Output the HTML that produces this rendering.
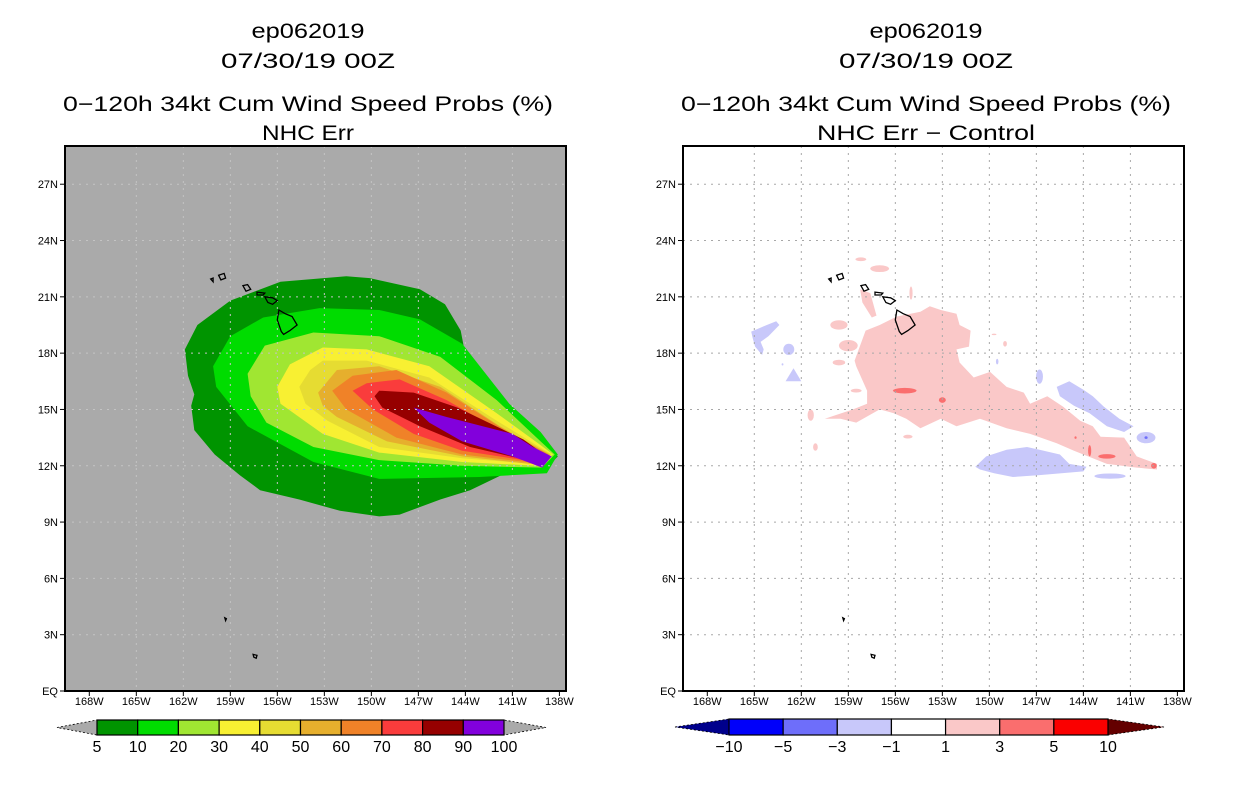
<!DOCTYPE html>
<html><head><meta charset="utf-8"><style>
html,body{margin:0;padding:0;background:#fff;}
svg{display:block;font-family:"Liberation Sans",sans-serif;}
</style></head><body>
<svg id="fig" width="1236" height="800" viewBox="0 0 1236 800" xmlns="http://www.w3.org/2000/svg">
<text x="308" y="38" text-anchor="middle" font-size="21" textLength="113" lengthAdjust="spacingAndGlyphs">ep062019</text>
<text x="308" y="68" text-anchor="middle" font-size="21" textLength="174" lengthAdjust="spacingAndGlyphs">07/30/19 00Z</text>
<text x="308" y="111" text-anchor="middle" font-size="21" textLength="490" lengthAdjust="spacingAndGlyphs">0−120h 34kt Cum Wind Speed Probs (%)</text>
<text x="308" y="140" text-anchor="middle" font-size="21" textLength="92" lengthAdjust="spacingAndGlyphs">NHC Err</text>
<text x="926" y="38" text-anchor="middle" font-size="21" textLength="113" lengthAdjust="spacingAndGlyphs">ep062019</text>
<text x="926" y="68" text-anchor="middle" font-size="21" textLength="174" lengthAdjust="spacingAndGlyphs">07/30/19 00Z</text>
<text x="926" y="111" text-anchor="middle" font-size="21" textLength="490" lengthAdjust="spacingAndGlyphs">0−120h 34kt Cum Wind Speed Probs (%)</text>
<text x="926" y="140" text-anchor="middle" font-size="21" textLength="218" lengthAdjust="spacingAndGlyphs">NHC Err − Control</text>
<g id="leftMap"></g>
<g id="rightMap"></g>
<g id="leftBar"></g>
<g id="rightBar"></g>
</svg>
<script>
// ---- data ----
const lonTicks = [-168,-165,-162,-159,-156,-153,-150,-147,-144,-141,-138];
const lonTickLabels = ["168W","165W","162W","159W","156W","153W","150W","147W","144W","141W","138W"];
const latTicks = [0,3,6,9,12,15,18,21,24,27];
const latTickLabels = ["EQ","3N","6N","9N","12N","15N","18N","21N","24N","27N"];
const probLevels = [5,10,20,30,40,50,60,70,80,90,100];
const probColors = ["#009400","#00dc00","#a0e632","#f8f032","#e6dc32","#e6af2d","#f08228","#fa3c3c","#960000","#8200dc"];
const c5 = [[-151.6,22.1],[-150.1,22.0],[-146.9,21.4],[-145.3,20.6],[-144.3,19.2],[-144.0,17.9],[-143.2,16.3],[-142.4,15.5],[-141.5,14.7],[-140.5,14.2],[-139.2,13.4],[-138.1,12.5],[-138.9,11.8],[-141.2,11.7],[-143.7,10.7],[-145.6,10.2],[-148.2,9.4],[-149.5,9.3],[-152.0,9.6],[-154.6,10.2],[-157.1,10.7],[-158.4,11.5],[-160.0,12.6],[-161.3,13.9],[-161.5,15.2],[-161.3,15.8],[-161.7,16.8],[-161.9,18.2],[-161.1,19.5],[-159.0,20.8],[-155.8,21.8]];
const c10 = [[-159.0,18.9],[-156.9,19.9],[-153.3,20.4],[-149.5,20.3],[-146.9,19.8],[-144.2,18.5],[-141.2,15.3],[-139.2,13.8],[-138.1,12.6],[-138.8,11.6],[-143.1,11.4],[-149.5,11.3],[-153.7,12.2],[-157.9,14.1],[-159.9,16.2],[-160.1,17.3]];
const c20 = [[-157.9,16.9],[-156.8,18.4],[-153.7,19.1],[-149.5,18.9],[-145.6,17.8],[-142.0,15.5],[-139.2,13.3],[-138.3,12.6],[-139.1,11.9],[-144.2,12.0],[-149.5,12.3],[-153.7,13.0],[-156.7,14.3],[-157.7,15.7]];
const c30 = [[-156.0,16.2],[-155.2,17.4],[-153.1,18.3],[-150.3,18.2],[-146.3,17.3],[-142.0,14.8],[-139.2,13.1],[-138.4,12.6],[-139.4,12.0],[-144.2,12.2],[-149.5,12.7],[-153.1,13.7],[-155.8,15.3]];
const c40 = [[-154.6,16.2],[-153.9,17.1],[-153.1,17.6],[-150.3,17.6],[-146.3,16.7],[-142.0,14.4],[-138.5,12.6],[-139.7,12.1],[-144.2,12.4],[-149.5,13.0],[-152.8,14.4],[-154.2,15.3]];
const c50 = [[-153.4,15.9],[-152.2,17.1],[-149.5,17.3],[-145.6,16.2],[-141.8,14.1],[-138.6,12.6],[-139.9,12.1],[-144.2,12.5],[-149.0,13.3],[-152.2,14.6],[-153.1,15.2]];
const c60 = [[-152.5,16.0],[-151.2,16.8],[-148.4,17.1],[-145.2,15.9],[-141.3,13.8],[-138.7,12.6],[-140.1,12.2],[-144.2,12.6],[-148.4,13.5],[-151.6,15.0]];
const c70 = [[-151.2,16.0],[-150.3,16.4],[-148.2,16.6],[-145.2,15.5],[-141.0,13.5],[-138.8,12.5],[-140.3,12.3],[-144.2,12.8],[-147.3,13.7],[-149.9,15.0]];
const c80 = [[-149.8,15.7],[-149.5,16.0],[-147.3,15.9],[-144.5,15.1],[-140.3,13.4],[-138.8,12.5],[-140.1,12.3],[-143.7,13.0],[-146.9,14.1],[-149.3,15.1]];
const c90 = [[-147.3,15.1],[-145.2,14.6],[-141.0,13.7],[-139.7,13.0],[-138.5,12.5],[-139.1,11.9],[-141.0,12.5],[-144.2,13.3],[-146.3,14.3]];
const probContours = [c5,c10,c20,c30,c40,c50,c60,c70,c80,c90];

const diffLevels = [-10,-5,-3,-1,1,3,5,10];
const diffColors = ["#00008c","#0000fa","#6e6efa","#c8c8fa","#ffffff","#fac8c8","#fa6e6e","#fa0000","#640000"];
const pinkMain = [[-158.6,17.6],[-157.9,19.2],[-157.0,19.5],[-155.9,19.95],[-154.4,20.2],[-153.8,20.5],[-153.1,20.3],[-152.1,20.1],[-151.9,19.5],[-151.2,19.2],[-151.3,18.35],[-152.1,18.2],[-151.9,17.5],[-151.0,16.7],[-149.95,17.0],[-148.9,16.2],[-147.8,15.9],[-147.4,15.3],[-146.3,15.7],[-145.3,15.15],[-144.2,14.4],[-143.4,14.1],[-142.9,13.55],[-141.4,13.5],[-140.6,12.5],[-139.3,12.1],[-139.3,11.8],[-140.6,11.9],[-142.5,12.1],[-144.6,12.8],[-145.7,13.2],[-147.4,13.7],[-148.9,14.0],[-150.6,14.5],[-152.1,14.1],[-153.1,14.5],[-154.4,14.0],[-155.3,14.5],[-156.1,14.8],[-157.0,15.0],[-158.5,14.3],[-159.5,14.5],[-160.5,14.5],[-158.7,15.0],[-157.8,15.3],[-157.8,16.0],[-158.5,17.3]];
const pinkStrip = [[-158.25,21.4],[-157.6,21.2],[-157.2,20.0],[-157.5,19.9],[-158.1,20.7]];
const blueWest = [[-165.2,19.15],[-164.2,19.5],[-163.6,19.7],[-163.4,19.5],[-164.1,18.9],[-164.6,18.6],[-164.4,18.2],[-164.5,17.9],[-164.95,18.35],[-165.1,18.8]];
const blueTri = [[-163.0,16.5],[-162.5,17.2],[-162.0,16.5]];
const blueBandNE = [[-145.7,16.2],[-144.9,16.5],[-144.0,16.05],[-143.4,15.7],[-142.7,15.15],[-141.7,14.5],[-140.8,14.1],[-141.4,13.8],[-142.5,14.1],[-143.6,14.8],[-144.6,15.2],[-145.5,15.7]];
const blueBandS = [[-150.9,11.95],[-150.2,12.5],[-148.9,12.85],[-147.6,13.0],[-146.8,12.85],[-145.5,12.6],[-144.9,12.1],[-143.8,11.95],[-144.0,11.7],[-146.8,11.5],[-148.5,11.4],[-149.7,11.6],[-150.6,11.8]];
const diffPolys = [[pinkMain,5],[pinkStrip,5],[blueWest,3],[blueTri,3],[blueBandNE,3],[blueBandS,3]];
// small patches: lon, lat, rx(deg), ry(deg), colour class index
const diffPatches = [[-159.6,19.5,0.55,0.25,5],[-159.0,18.4,0.6,0.3,5],[-159.6,17.5,0.4,0.15,5],[-157.0,22.5,0.6,0.18,5],[-158.2,23.0,0.35,0.1,5],[-155.0,21.2,0.1,0.35,5],[-161.4,14.7,0.2,0.3,5],[-161.1,13.0,0.15,0.2,5],[-155.2,13.55,0.3,0.1,5],[-158.5,16.0,0.35,0.1,5],[-149.0,18.5,0.12,0.15,5],[-149.7,19.0,0.15,0.04,5],
 [-162.8,18.2,0.35,0.3,3],[-149.5,17.55,0.08,0.15,3],[-146.8,16.75,0.22,0.38,3],[-140.0,13.5,0.6,0.3,3],[-142.3,11.45,1.0,0.14,3],[-163.2,17.4,0.06,0.06,3],
 [-155.4,16.0,0.75,0.15,6],[-153.0,15.5,0.22,0.15,6],[-142.5,12.5,0.55,0.12,6],[-143.6,12.8,0.1,0.3,6],[-139.5,12.0,0.18,0.15,6],[-144.5,13.5,0.07,0.07,6],[-140.0,13.5,0.1,0.07,2]];
const islands = [
 [[-155.9,20.3],[-155.5,20.1],[-155.06,19.95],[-154.74,19.5],[-155.2,19.2],[-155.6,19.0],[-155.75,19.15],[-156.0,19.77]],
 [[-156.8,21.0],[-156.3,20.95],[-156.0,20.8],[-156.3,20.6],[-156.6,20.7]],
 [[-157.3,21.25],[-156.8,21.2],[-156.9,21.1],[-157.3,21.1]],
 [[-158.2,21.6],[-157.9,21.65],[-157.7,21.4],[-158.0,21.3]],
 [[-159.75,22.15],[-159.4,22.25],[-159.3,22.0],[-159.6,21.9]],
 [[-160.25,21.95],[-160.1,22.0],[-160.1,21.8]],
 [[-159.35,3.9],[-159.25,3.85],[-159.3,3.75]],
 [[-157.55,1.95],[-157.3,1.9],[-157.35,1.75],[-157.5,1.8]]
];

// ---- axes ----
const NS='http://www.w3.org/2000/svg';
const PX0=89.3, PXD=15.67, PY0=691, PYD=18.77;
function xs(lon,off){return off+PX0+(lon+168)*PXD;}
function ys(lat){return PY0-lat*PYD;}
function mk(tag,parent,attrs){const e=document.createElementNS(NS,tag);for(const k in attrs)e.setAttribute(k,attrs[k]);parent.appendChild(e);return e;}
function pts(poly,off){return poly.map(p=>xs(p[0],off).toFixed(1)+','+ys(p[1]).toFixed(1)).join(' ');}

function drawMap(g,off,bg){
  const L=65+off,T=146,W=501,H=545;
  const cp=mk('clipPath',g,{id:'clip'+off});
  mk('rect',cp,{x:L,y:T,width:W,height:H});
  const bgr=mk('rect',g,{x:L,y:T,width:W,height:H,fill:bg});
  
  
  const inner=mk('g',g,{'clip-path':'url(#clip'+off+')'});
  return {inner,L,T,W,H};
}
function drawGridAxes(g,m,off,gridCol){
  const gg=mk('g',g,{'clip-path':'url(#clip'+off+')'});
  lonTicks.forEach((lon,i)=>{
    if(i>0&&i<lonTicks.length-1){
      const l=mk('line',gg,{x1:xs(lon,off),x2:xs(lon,off),y1:m.T,y2:m.T+m.H,stroke:gridCol,'stroke-width':1,'stroke-dasharray':'2,5'});
      
      
    }
  });
  latTicks.forEach((lat,i)=>{
    if(i>0){
      const l=mk('line',gg,{x1:m.L,x2:m.L+m.W,y1:ys(lat),y2:ys(lat),stroke:gridCol,'stroke-width':1,'stroke-dasharray':'2,5'});
      
      
    }
  });
  islands.forEach(p=>{
    const s=mk('polygon',gg,{points:pts(p,off),fill:'none',stroke:'#000','stroke-width':1.3});
    
    
  });
  const fr=mk('rect',g,{x:m.L,y:m.T,width:m.W,height:m.H,fill:'none',stroke:'#000','stroke-width':2});
  
  
  lonTicks.forEach((lon,i)=>{
    const x=xs(lon,off);
    mk('line',g,{x1:x,x2:x,y1:m.T+m.H,y2:m.T+m.H+5,stroke:'#000','stroke-width':1});
    const t=mk('text',g,{x:x,y:705,'text-anchor':'middle','font-size':11});
    t.textContent=lonTickLabels[i];
    
    
  });
  latTicks.forEach((lat,i)=>{
    const y=ys(lat);
    mk('line',g,{x1:m.L-5,x2:m.L,y1:y,y2:y,stroke:'#000','stroke-width':1});
    const t=mk('text',g,{x:m.L-7,y:y+4,'text-anchor':'end','font-size':11});
    t.textContent=latTickLabels[i];
    
    
  });
}

// left map
const gl=document.getElementById('leftMap');
const ml=drawMap(gl,0,'#aaaaaa');
probContours.forEach((poly,i)=>{
  const p=mk('polygon',ml.inner,{points:pts(poly,0),fill:probColors[i]});
  
  
});
drawGridAxes(gl,ml,0,'#c4c4c4');

// right map
const gr=document.getElementById('rightMap');
const mr=drawMap(gr,618,'#ffffff');
diffPolys.forEach(d=>{
  const p=mk('polygon',mr.inner,{points:pts(d[0],618),fill:diffColors[d[1]]});
  
  
});
diffPatches.forEach(d=>{
  const e=mk('ellipse',mr.inner,{cx:xs(d[0],618),cy:ys(d[1]),rx:d[2]*PXD,ry:d[3]*PYD,fill:diffColors[d[4]]});
  
  
});
drawGridAxes(gr,mr,618,'#a8a8a8');

// colorbars
function colorbar(g,labels,x0,x1,tipL,tipR,y0,y1,arrowL,arrowR,boxes){
  const n=boxes.length, bw=(x1-x0)/n, ym=(y0+y1)/2;
  const a=mk('polygon',g,{points:`${tipL},${ym} ${x0},${y0} ${x0},${y1}`,fill:arrowL,stroke:'#000','stroke-width':0.8,'stroke-dasharray':'2,2'});
  
  
  const b=mk('polygon',g,{points:`${tipR},${ym} ${x1},${y0} ${x1},${y1}`,fill:arrowR,stroke:'#000','stroke-width':0.8,'stroke-dasharray':'2,2'});
  
  
  boxes.forEach((c,i)=>{
    const r=mk('rect',g,{x:x0+i*bw,y:y0,width:bw,height:y1-y0,fill:c,stroke:'#000','stroke-width':1.2});
    
    
  });
  labels.forEach((l,i)=>{
    const t=mk('text',g,{x:x0+i*bw,y:y1+17,'text-anchor':'middle','font-size':16});
    t.textContent=l;
    
    
  });
}
colorbar(document.getElementById('leftBar'),probLevels.map(String),97,504,57,546,720,735,'#aaaaaa','#aaaaaa',probColors);
colorbar(document.getElementById('rightBar'),diffLevels.map(v=>v<0?'−'+Math.abs(v):String(v)),729,1108,675,1164,719,735,diffColors[0],diffColors[8],diffColors.slice(1,8));
</script>
</body></html>
